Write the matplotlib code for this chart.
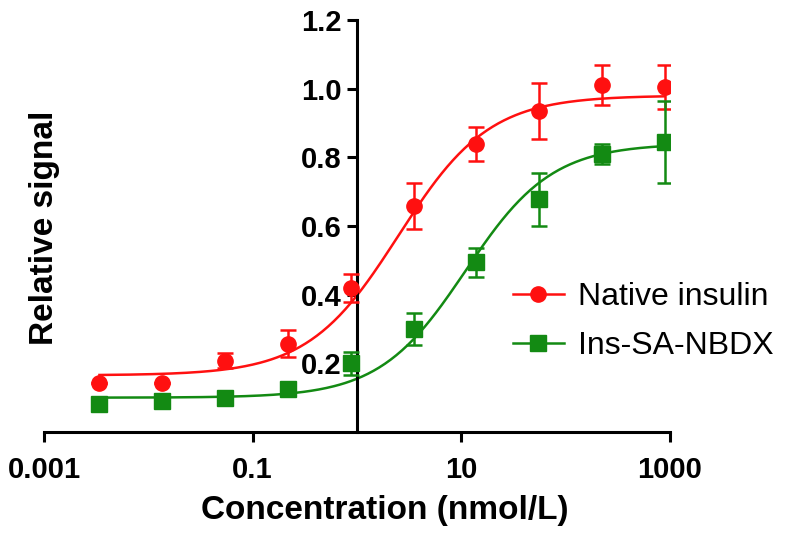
import numpy as np
import matplotlib
matplotlib.use("Agg")
import matplotlib.pyplot as plt
from matplotlib.ticker import FixedLocator, FixedFormatter, NullLocator

plt.rcParams['font.family'] = ['Liberation Sans', 'DejaVu Sans']

# ---- data ----
conc = [0.0034, 0.0136, 0.0543, 0.217, 0.869, 3.48, 13.9, 55.6, 222.5, 890]
native_mean = [0.143, 0.143, 0.207, 0.257, 0.42, 0.657, 0.838, 0.934, 1.01, 1.005]
native_err = [0.0, 0.0, 0.022, 0.04, 0.04, 0.067, 0.05, 0.082, 0.058, 0.064]
nbdx_mean = [0.082, 0.09, 0.10, 0.126, 0.20, 0.30, 0.494, 0.678, 0.81, 0.845]
nbdx_err = [0.0, 0.0, 0.0, 0.0, 0.033, 0.047, 0.042, 0.077, 0.03, 0.12]

# fitted 4PL curve parameters (bottom, top, EC50, hill)
native_fit = (0.165, 0.98, 2.5, 1.0)
nbdx_fit = (0.10, 0.84, 11.0, 1.05)

xticks = [0.001, 0.1, 10, 1000]
xtick_labels = ['0.001', '0.1', '10', '1000']
yticks = [0.2, 0.4, 0.6, 0.8, 1.0, 1.2]
ytick_labels = ['0.2', '0.4', '0.6', '0.8', '1.0', '1.2']

RED = '#ff1010'
GREEN = '#138a13'


def four_pl(x, p):
    b, t, ec, h = p
    return b + (t - b) / (1 + (ec / x) ** h)


fig = plt.figure(figsize=(7.93, 5.45), dpi=100)
ax = fig.add_axes([44 / 793, 1 - 432 / 545, (670 - 44) / 793, (432 - 20) / 545])

xs = np.logspace(np.log10(conc[0]), np.log10(conc[-1]), 300)
ax.plot(xs, four_pl(xs, native_fit), color=RED, lw=1.8, zorder=2)
ax.plot(xs, four_pl(xs, nbdx_fit), color=GREEN, lw=1.8, zorder=2)

ax.errorbar(conc, native_mean, yerr=native_err, fmt='o', color=RED, ms=11,
            capsize=6, elinewidth=1.8, capthick=1.8, zorder=3)
ax.errorbar(conc, nbdx_mean, yerr=nbdx_err, fmt='s', color=GREEN, ms=11,
            capsize=6, elinewidth=1.8, capthick=1.8, zorder=3)

# legend handles (line + marker)
h1, = ax.plot([], [], '-o', color=RED, lw=1.8, ms=11)
h2, = ax.plot([], [], '-s', color=GREEN, lw=1.8, ms=11)
leg = fig.legend([h1, h2], ['Native insulin', 'Ins-SA-NBDX'], frameon=False,
                 loc='upper left', bbox_to_anchor=(500 / 793, 1 - 269 / 545),
                 fontsize=23, handlelength=1.6, handletextpad=0.45,
                 labelspacing=0.6, borderaxespad=0)

ax.set_xscale('log')
ax.set_xlim(0.001, 1000)
ax.set_ylim(0, 1.2)

ax.spines['left'].set_position(('data', 1))
ax.spines['bottom'].set_position(('data', 0))
ax.spines['right'].set_visible(False)
ax.spines['top'].set_visible(False)
for s in ('left', 'bottom'):
    ax.spines[s].set_linewidth(2.2)

ax.xaxis.set_major_locator(FixedLocator(xticks))
ax.xaxis.set_major_formatter(FixedFormatter(xtick_labels))
ax.xaxis.set_minor_locator(NullLocator())
ax.yaxis.set_major_locator(FixedLocator(yticks))
ax.yaxis.set_major_formatter(FixedFormatter(ytick_labels))
ax.tick_params(axis='both', direction='out', length=7, width=2.2, labelsize=21, pad=4)
for lbl in ax.get_xticklabels() + ax.get_yticklabels():
    lbl.set_fontweight('bold')
ax.tick_params(axis='x', pad=10)

fig.text(385 / 793, 1 - 510 / 545, 'Concentration (nmol/L)', ha='center', va='center',
         fontsize=24, fontweight='bold')
fig.text(45 / 793, 1 - 228 / 545, 'Relative signal', ha='center', va='center',
         rotation=90, fontsize=24, fontweight='bold')

fig.savefig('out.png', dpi=100)
